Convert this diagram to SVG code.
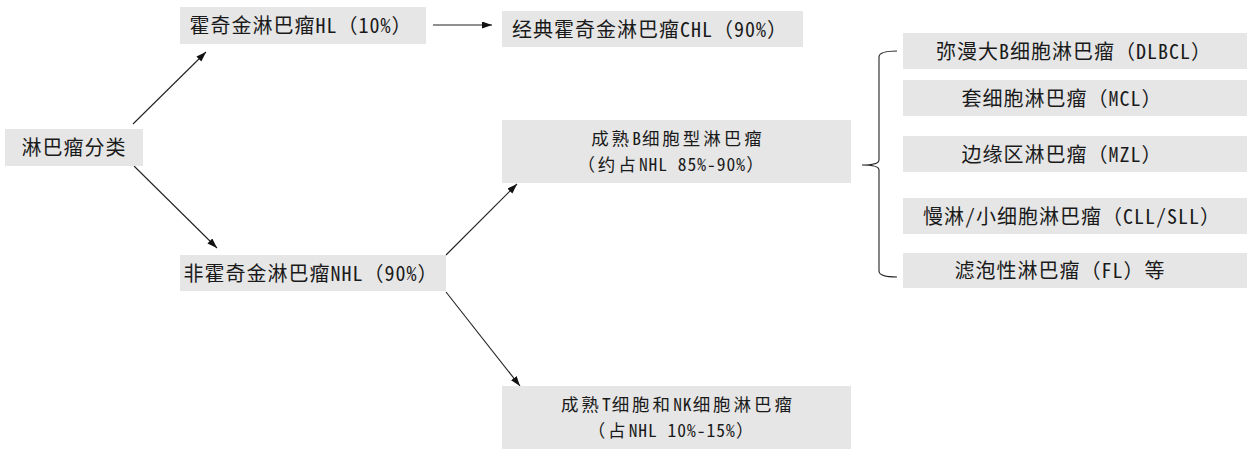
<svg xmlns="http://www.w3.org/2000/svg" width="1250" height="450" viewBox="0 0 1250 450">
<style>
  .box { fill: #e6e6e6; }
  .t { font-family: "Noto Sans Mono CJK SC", "Noto Sans CJK SC", sans-serif; font-size: 20px; fill: #1a1a1a; text-anchor: middle; letter-spacing: 1px; }
  .t2 { font-size: 17.5px; letter-spacing: 3px; }
  .lat { letter-spacing: 1px; }
  .ln { stroke: #222; stroke-width: 1.1; fill: none; }
</style>
<defs>
  <marker id="arr" markerUnits="userSpaceOnUse" markerWidth="11" markerHeight="8" refX="10" refY="3.5" orient="auto">
    <path d="M0,0 L10,3.5 L0,7 z" fill="#111"/>
  </marker>
</defs>
<rect width="1250" height="450" fill="#ffffff"/>

<g id="connectors">
  <line class="ln" x1="133" y1="124" x2="206" y2="52" marker-end="url(#arr)"/>
  <line class="ln" x1="134" y1="166" x2="217" y2="248" marker-end="url(#arr)"/>
  <line class="ln" x1="433" y1="25" x2="492" y2="25" marker-end="url(#arr)"/>
  <line class="ln" x1="446" y1="255" x2="517" y2="184" marker-end="url(#arr)"/>
  <line class="ln" x1="446" y1="292" x2="520" y2="386" marker-end="url(#arr)"/>
  <path class="ln" d="M897,51 C889,51 879,52 879,57 L879,160 C879,164 872,165 862,165 C872,165 879,166 879,170 L879,271 C879,276 889,277 897,277"/>
</g>

<g id="root">
  <rect class="box" x="5" y="129" width="138" height="37"/>
  <text class="t" x="74" y="155">淋巴瘤分类</text>
</g>
<g id="hl">
  <rect class="box" x="180" y="7" width="246" height="37"/>
  <text class="t" x="301" y="33">霍奇金淋巴瘤HL（10%）</text>
</g>
<g id="chl">
  <rect class="box" x="502" y="11" width="301" height="36"/>
  <text class="t" x="650" y="36.5">经典霍奇金淋巴瘤CHL（90%）</text>
</g>
<g id="nhl">
  <rect class="box" x="180" y="255" width="266" height="36"/>
  <text class="t" x="311" y="280.5">非霍奇金淋巴瘤NHL（90%）</text>
</g>
<g id="bcell">
  <rect class="box" x="502" y="120" width="349" height="63"/>
  <text class="t t2" x="678" y="145.3">成熟<tspan class="lat">B</tspan>细胞型淋巴瘤</text>
  <text class="t t2" x="672" y="171">（约占<tspan class="lat">NHL 85%-90%</tspan>）</text>
</g>
<g id="tcell">
  <rect class="box" x="502" y="386" width="349" height="63"/>
  <text class="t t2" x="678" y="411.3">成熟<tspan class="lat">T</tspan>细胞和<tspan class="lat">NK</tspan>细胞淋巴瘤</text>
  <text class="t t2" x="672" y="437">（占<tspan class="lat">NHL 10%-15%</tspan>）</text>
</g>
<g id="dlbcl">
  <rect class="box" x="903" y="33" width="344" height="36"/>
  <text class="t" x="1074" y="58.5">弥漫大B细胞淋巴瘤（DLBCL）</text>
</g>
<g id="mcl">
  <rect class="box" x="903" y="80" width="344" height="36"/>
  <text class="t" x="1062" y="105.5">套细胞淋巴瘤（MCL）</text>
</g>
<g id="mzl">
  <rect class="box" x="903" y="136" width="344" height="36"/>
  <text class="t" x="1062" y="161.5">边缘区淋巴瘤（MZL）</text>
</g>
<g id="cll">
  <rect class="box" x="903" y="198" width="344" height="36"/>
  <text class="t" x="1072" y="223.5">慢淋/小细胞淋巴瘤（CLL/SLL）</text>
</g>
<g id="fl">
  <rect class="box" x="903" y="253" width="344" height="35"/>
  <text class="t" x="1060" y="278">滤泡性淋巴瘤（FL）等</text>
</g>
</svg>
